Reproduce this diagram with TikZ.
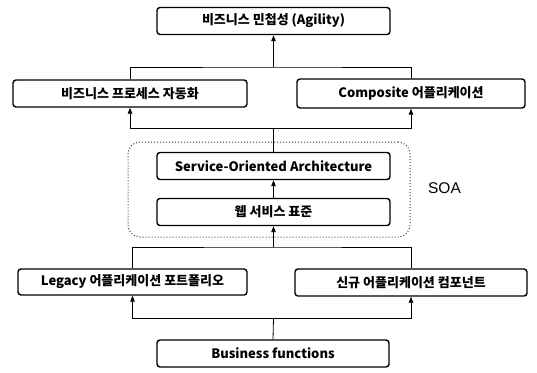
\documentclass[tikz,border=0pt]{standalone}
\usepackage{fontspec}
\setmainfont{Noto Sans CJK KR}
\newfontfamily\labfont{Liberation Sans}
\usetikzlibrary{arrows.meta}
\begin{document}
\begin{tikzpicture}[x=1pt,y=-1pt,
  box/.style={draw=black, line width=1.4pt, rounded corners=3pt, inner sep=0pt,
    font=\bfseries\fontsize{13}{14}\selectfont, minimum height=27pt},
  link/.style={draw=black, line width=0.8pt},
  arr/.style={link, -{Triangle[length=6pt,width=4.5pt]}},
  soabox/.style={draw=black!75, dotted, line width=1pt, rounded corners=12pt, inner sep=0pt}]
\useasboundingbox (0,0) rectangle (537,372);
\node[soabox, minimum width=282pt, minimum height=95pt] (soa) at (269,189.5) {};
\node[box, minimum width=233pt] (A) at (273.5,21) {비즈니스 민첩성 (Agility)};
\node[box, minimum width=234pt] (B) at (130,93.5) {비즈니스 프로세스 자동화};
\node[box, minimum width=228pt, minimum height=29pt] (C) at (411,93.5) {Composite 어플리케이션};
\node[box, minimum width=233pt] (D) at (273.5,166) {Service-Oriented Architecture};
\node[box, minimum width=233pt] (E) at (273.5,212) {웹 서비스 표준};
\node[box, minimum width=229pt, minimum height=26pt] (F) at (132.5,282) {Legacy 어플리케이션 포트폴리오};
\node[box, minimum width=232pt] (G) at (411,282.5) {신규 어플리케이션 컴포넌트};
\node[box, minimum width=232pt] (H) at (273,353.5) {Business functions};
\node[font=\labfont\fontsize{15.5}{16}\selectfont, inner sep=0pt] (lbl) at (444.5,188) {SOA};
\coordinate (t1) at (273.5,67);
\coordinate (t2) at (273.5,128);
\coordinate (t3) at (273.5,247);
\coordinate (t4) at (273.5,318);
\draw[link] (B.north) |- (t1) -| (C.north);
\draw[arr] (t1) -- (A.south);
\draw[link] (D.north) -- (t2);
\draw[arr] (t2) -| (B.south);
\draw[arr] (t2) -| (C.south);
\draw[arr] (E.north) -- (D.south);
\draw[link] (F.north) |- (t3) -| (G.north);
\draw[arr] (t3) -- (E.south);
\draw[link] (H.north) -- (t4);
\draw[arr] (t4) -| (F.south);
\draw[arr] (t4) -| (G.south);
\end{tikzpicture}
\end{document}
